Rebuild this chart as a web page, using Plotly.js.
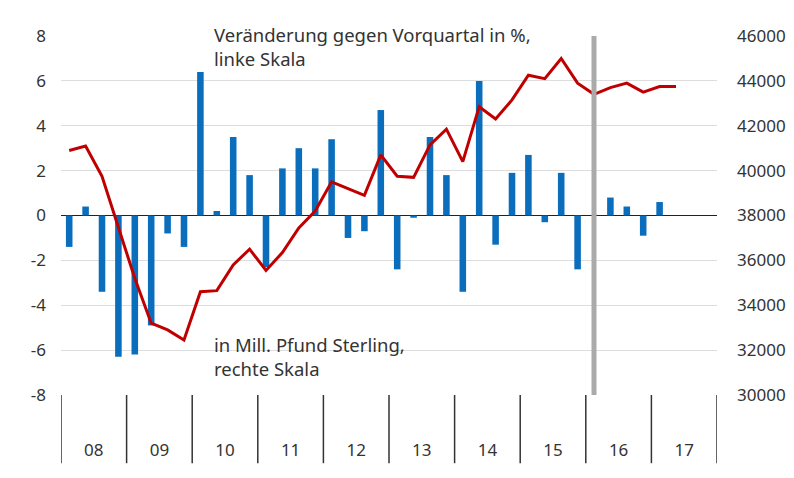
<!DOCTYPE html>
<html>
<head>
<meta charset="utf-8">
<script src="https://cdn.plot.ly/plotly-3.0.1.min.js"></script>
<style>html,body{margin:0;padding:0;background:#fff}#chart{width:794px;height:478px}</style>
</head>
<body>
<div id="chart"></div>
<script>
// Year labels (quarters per year = 4)
var years = ['08','09','10','11','12','13','14','15','16','17'];
// Left axis tick labels (%)
var leftTicks = [-8, -6, -4, -2, 0, 2, 4, 6, 8];
// Right axis tick labels (Mill. Pfund Sterling)
var rightTicks = [30000, 32000, 34000, 36000, 38000, 40000, 42000, 44000, 46000];
// Quarterly change vs previous quarter in % (left scale), 2008 Q1 .. 2017 Q2
var changePct = [
  -1.4, 0.4, -3.4, -6.3,
  -6.2, -4.9, -0.8, -1.4,
   6.4, 0.2, 3.5, 1.8,
  -2.3, 2.1, 3.0, 2.1,
   3.4, -1.0, -0.7, 4.7,
  -2.4, -0.1, 3.5, 1.8,
  -3.4, 6.0, -1.3, 1.9,
   2.7, -0.3, 1.9, -2.4,
   null, 0.8, 0.4, -0.9,
   0.6, null
];
// Level in Mill. Pfund Sterling (right scale)
var levelMill = [
  40900, 41100, 39750, 37500,
  35200, 33200, 32900, 32450,
  34600, 34650, 35800, 36500,
  35550, 36350, 37450, 38200,
  39500, 39200, 38900, 40700,
  39750, 39700, 41150, 41850,
  40400, 42850, 42300, 43150,
  44250, 44100, 45000, 43900,
  43400, 43700, 43900, 43500,
  43750, 43750
];
// Forecast divider: first quarter of 2016
var dividerYear = '16';

var q = changePct.map(function(_, i){ return i; });
var yearCenters = years.map(function(_, i){ return i*4 + 1.5; });
var yearBounds = years.map(function(_, i){ return i*4 - 0.5; }).concat([years.length*4 - 0.5]);
var dividerX = years.indexOf(dividerYear) * 4;

var shapes = yearBounds.map(function(b){
  return {type:'line', xref:'x', yref:'paper', x0:b, x1:b, y0:0, y1:-0.19,
          line:{color:'#333', width:1.5}};
});
shapes.push({type:'line', xref:'x', yref:'paper', x0:dividerX, x1:dividerX, y0:0, y1:1,
             line:{color:'#aaaaaa', width:5}, layer:'above'});

var traces = [
  {type:'bar', x:q, y:changePct, width:0.4, marker:{color:'#0a6ebd'}, yaxis:'y', hoverinfo:'y'},
  {type:'scatter', mode:'lines', x:q, y:levelMill, yaxis:'y2',
   line:{color:'#c00000', width:3}}
];

var fam = 'Noto Sans, sans-serif';
var font = {family:fam, size:17, color:'#333'};

var layout = {
  width:794, height:478,
  margin:{l:61, r:77, t:36, b:83},
  paper_bgcolor:'#fff', plot_bgcolor:'#fff',
  showlegend:false,
  font:font,
  xaxis:{range:[-0.5, years.length*4 - 0.5], tickmode:'array', tickvals:yearCenters, ticktext:years,
         ticks:'outside', ticklen:40, tickcolor:'rgba(0,0,0,0)', showgrid:false, zeroline:false,
         showline:false, tickfont:font, fixedrange:true},
  yaxis:{range:[-8, 8], tickmode:'array', tickvals:leftTicks, ticktext:leftTicks.map(String),
         showgrid:true, gridcolor:'#dddddd', gridwidth:1,
         zeroline:true, zerolinecolor:'#222', zerolinewidth:1.5, showline:false,
         ticks:'', ticklabelstandoff:14, tickfont:font},
  yaxis2:{range:[30000, 46000], tickmode:'array', tickvals:rightTicks, ticktext:rightTicks.map(String),
          overlaying:'y', side:'right', showgrid:false,
          zeroline:false, showline:false, ticks:'', tickfont:font, ticklabelstandoff:19},
  shapes:shapes,
  annotations:[
    {xref:'paper', yref:'paper', x:(212-61)/656, y:1.045, xanchor:'left', yanchor:'top', align:'left',
     showarrow:false, text:'Veränderung gegen Vorquartal in %,<br>linke Skala', font:{family:fam, size:18.5, color:'#333'}},
    {xref:'paper', yref:'paper', x:(212-61)/656, y:(395-330)/359, xanchor:'left', yanchor:'top', align:'left',
     showarrow:false, text:'in Mill. Pfund Sterling,<br>rechte Skala', font:{family:fam, size:18.5, color:'#333'}}
  ]
};

Plotly.newPlot('chart', traces, layout, {displayModeBar:false, staticPlot:true});
</script>
</body>
</html>
